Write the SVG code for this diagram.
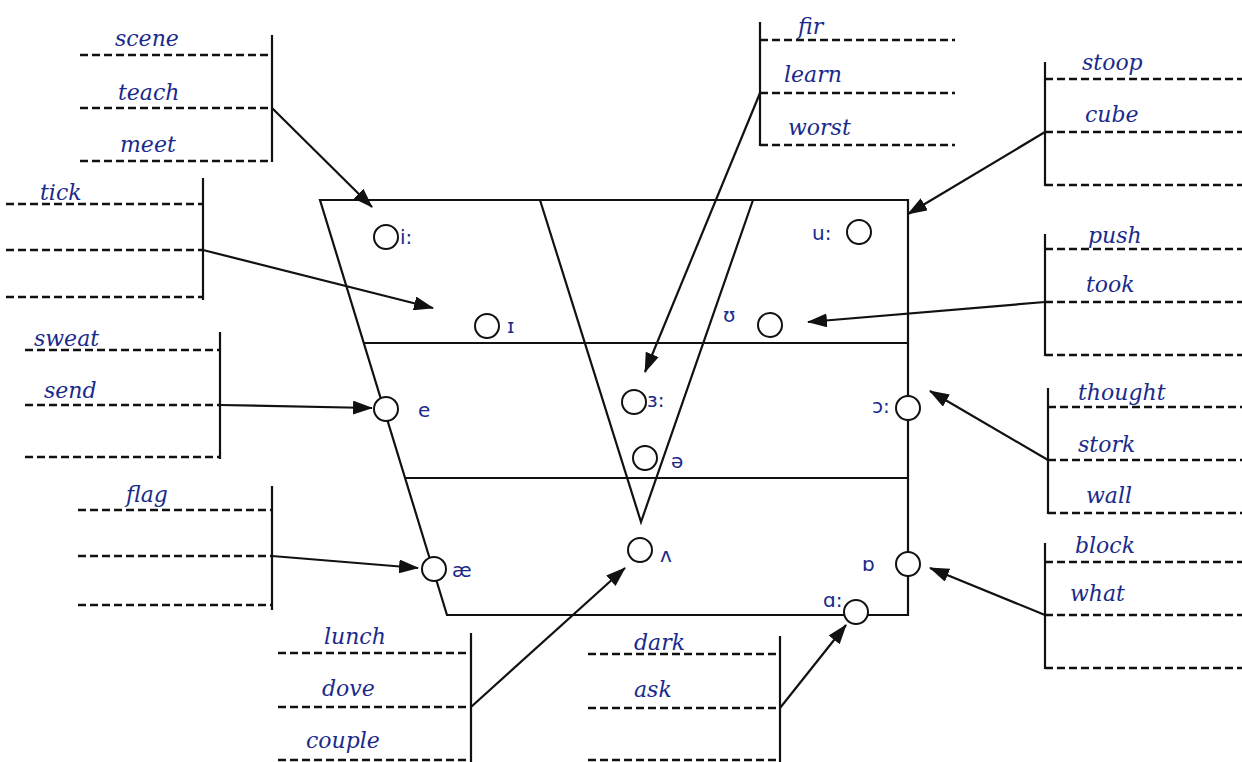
<svg xmlns="http://www.w3.org/2000/svg" width="1242" height="762" viewBox="0 0 1242 762">
<style>
.frame{fill:none;stroke:#111;stroke-width:2.2}
.dash{fill:none;stroke:#111;stroke-width:2.4;stroke-dasharray:8 4}
.vbar{fill:none;stroke:#111;stroke-width:2.2}
.conn{fill:none;stroke:#111;stroke-width:2.2}
.dot{fill:#fff;stroke:#111;stroke-width:2}
.sym{font-family:"DejaVu Sans",sans-serif;font-size:20px;fill:#1a2a8a}
.word{font-family:"DejaVu Serif","Liberation Serif",serif;font-style:italic;font-size:22px;fill:#1a2a8a}
</style>
<defs>
<marker id="ah" markerWidth="20" markerHeight="14" refX="19" refY="7" orient="auto" markerUnits="userSpaceOnUse">
<path d="M0,0 L20,7 L0,14 Z" fill="#111"/>
</marker>
</defs>
<rect width="1242" height="762" fill="#fff"/>
<g id="chart">
<path class="frame" d="M320,200 L908,200 L908,615 L447,615 Z"/>
<line class="frame" x1="364" y1="343" x2="908" y2="343"/>
<line class="frame" x1="405" y1="478" x2="908" y2="478"/>
<path class="frame" d="M540,200 L641,522 L753,200"/>
</g>
<g id="vowels">
<g id="v-i"><circle class="dot" cx="386" cy="237" r="12"/><text class="sym" x="400" y="244">i:</text></g>
<g id="v-I"><circle class="dot" cx="487" cy="326" r="12"/><text class="sym" x="507" y="333">ɪ</text></g>
<g id="v-U"><text class="sym" x="723" y="322">ʊ</text><circle class="dot" cx="770" cy="325" r="12"/></g>
<g id="v-u"><text class="sym" x="812" y="240">u:</text><circle class="dot" cx="859" cy="232" r="12"/></g>
<g id="v-3"><circle class="dot" cx="634" cy="402" r="12"/><text class="sym" x="647" y="407">ɜ:</text></g>
<g id="v-schwa"><circle class="dot" cx="645" cy="458" r="12"/><text class="sym" x="671" y="468">ə</text></g>
<g id="v-e"><circle class="dot" cx="386" cy="409" r="12"/><text class="sym" x="418" y="417">e</text></g>
<g id="v-o"><text class="sym" x="872" y="413">ɔ:</text><circle class="dot" cx="908" cy="408" r="12"/></g>
<g id="v-ae"><circle class="dot" cx="434" cy="569" r="12"/><text class="sym" x="452" y="577">æ</text></g>
<g id="v-wedge"><circle class="dot" cx="640" cy="550" r="12"/><text class="sym" x="660" y="562">ʌ</text></g>
<g id="v-D"><text class="sym" x="862" y="571">ɒ</text><circle class="dot" cx="908" cy="564" r="12"/></g>
<g id="v-a"><text class="sym" x="823" y="607">ɑ:</text><circle class="dot" cx="856" cy="612" r="12"/></g>
</g>
<g id="tables">
<g id="t-scene">
<line class="vbar" x1="272" y1="35" x2="272" y2="162"/>
<line class="dash" x1="80" y1="55" x2="272" y2="55"/>
<line class="dash" x1="80" y1="108" x2="272" y2="108"/>
<line class="dash" x1="80" y1="161" x2="272" y2="161"/>
<text class="word" x="115" y="46">scene</text><text class="word" x="118" y="100">teach</text><text class="word" x="120" y="152">meet</text>
</g>
<g id="t-fir">
<line class="vbar" x1="760" y1="22" x2="760" y2="146"/>
<line class="dash" x1="760" y1="40" x2="955" y2="40"/>
<line class="dash" x1="760" y1="93" x2="955" y2="93"/>
<line class="dash" x1="760" y1="145" x2="955" y2="145"/>
<text class="word" x="798" y="34">fir</text><text class="word" x="784" y="82">learn</text><text class="word" x="788" y="135">worst</text>
</g>
<g id="t-stoop">
<line class="vbar" x1="1045" y1="62" x2="1045" y2="186"/>
<line class="dash" x1="1045" y1="79" x2="1242" y2="79"/>
<line class="dash" x1="1045" y1="132" x2="1242" y2="132"/>
<line class="dash" x1="1045" y1="185" x2="1242" y2="185"/>
<text class="word" x="1082" y="70">stoop</text><text class="word" x="1085" y="122">cube</text>
</g>
<g id="t-tick">
<line class="vbar" x1="203" y1="178" x2="203" y2="300"/>
<line class="dash" x1="6" y1="204" x2="203" y2="204"/>
<line class="dash" x1="6" y1="250" x2="203" y2="250"/>
<line class="dash" x1="6" y1="297" x2="203" y2="297"/>
<text class="word" x="40" y="200">tick</text>
</g>
<g id="t-sweat">
<line class="vbar" x1="220" y1="332" x2="220" y2="459"/>
<line class="dash" x1="25" y1="350" x2="220" y2="350"/>
<line class="dash" x1="25" y1="405" x2="220" y2="405"/>
<line class="dash" x1="25" y1="457" x2="220" y2="457"/>
<text class="word" x="34" y="346">sweat</text><text class="word" x="44" y="398">send</text>
</g>
<g id="t-push">
<line class="vbar" x1="1045" y1="234" x2="1045" y2="356"/>
<line class="dash" x1="1045" y1="249" x2="1242" y2="249"/>
<line class="dash" x1="1045" y1="302" x2="1242" y2="302"/>
<line class="dash" x1="1045" y1="355" x2="1242" y2="355"/>
<text class="word" x="1088" y="243">push</text><text class="word" x="1086" y="292">took</text>
</g>
<g id="t-thought">
<line class="vbar" x1="1048" y1="388" x2="1048" y2="514"/>
<line class="dash" x1="1048" y1="407" x2="1242" y2="407"/>
<line class="dash" x1="1048" y1="460" x2="1242" y2="460"/>
<line class="dash" x1="1048" y1="513" x2="1242" y2="513"/>
<text class="word" x="1078" y="400">thought</text><text class="word" x="1078" y="452">stork</text><text class="word" x="1086" y="503">wall</text>
</g>
<g id="t-block">
<line class="vbar" x1="1045" y1="543" x2="1045" y2="669"/>
<line class="dash" x1="1045" y1="562" x2="1242" y2="562"/>
<line class="dash" x1="1045" y1="615" x2="1242" y2="615"/>
<line class="dash" x1="1045" y1="668" x2="1242" y2="668"/>
<text class="word" x="1075" y="553">block</text><text class="word" x="1070" y="601">what</text>
</g>
<g id="t-flag">
<line class="vbar" x1="272" y1="486" x2="272" y2="610"/>
<line class="dash" x1="78" y1="510" x2="272" y2="510"/>
<line class="dash" x1="78" y1="556" x2="272" y2="556"/>
<line class="dash" x1="78" y1="605" x2="272" y2="605"/>
<text class="word" x="126" y="502">flag</text>
</g>
<g id="t-lunch">
<line class="vbar" x1="471" y1="633" x2="471" y2="762"/>
<line class="dash" x1="278" y1="653" x2="471" y2="653"/>
<line class="dash" x1="278" y1="707" x2="471" y2="707"/>
<line class="dash" x1="278" y1="760" x2="471" y2="760"/>
<text class="word" x="324" y="644">lunch</text><text class="word" x="322" y="696">dove</text><text class="word" x="306" y="748">couple</text>
</g>
<g id="t-dark">
<line class="vbar" x1="780" y1="636" x2="780" y2="762"/>
<line class="dash" x1="588" y1="654" x2="780" y2="654"/>
<line class="dash" x1="588" y1="708" x2="780" y2="708"/>
<line class="dash" x1="588" y1="760" x2="780" y2="760"/>
<text class="word" x="634" y="650">dark</text><text class="word" x="634" y="697">ask</text>
</g>
</g>
<g id="connectors">
<line class="conn" x1="272" y1="108" x2="372" y2="207" marker-end="url(#ah)"/>
<line class="conn" x1="760" y1="93" x2="645" y2="372" marker-end="url(#ah)"/>
<line class="conn" x1="1045" y1="132" x2="908" y2="214" marker-end="url(#ah)"/>
<line class="conn" x1="203" y1="250" x2="433" y2="308" marker-end="url(#ah)"/>
<line class="conn" x1="220" y1="405" x2="372" y2="408" marker-end="url(#ah)"/>
<line class="conn" x1="1045" y1="302" x2="808" y2="322" marker-end="url(#ah)"/>
<line class="conn" x1="1048" y1="460" x2="930" y2="391" marker-end="url(#ah)"/>
<line class="conn" x1="1045" y1="615" x2="930" y2="568" marker-end="url(#ah)"/>
<line class="conn" x1="272" y1="556" x2="418" y2="568" marker-end="url(#ah)"/>
<line class="conn" x1="471" y1="707" x2="625" y2="568" marker-end="url(#ah)"/>
<line class="conn" x1="780" y1="708" x2="846" y2="625" marker-end="url(#ah)"/>
</g>
</svg>
